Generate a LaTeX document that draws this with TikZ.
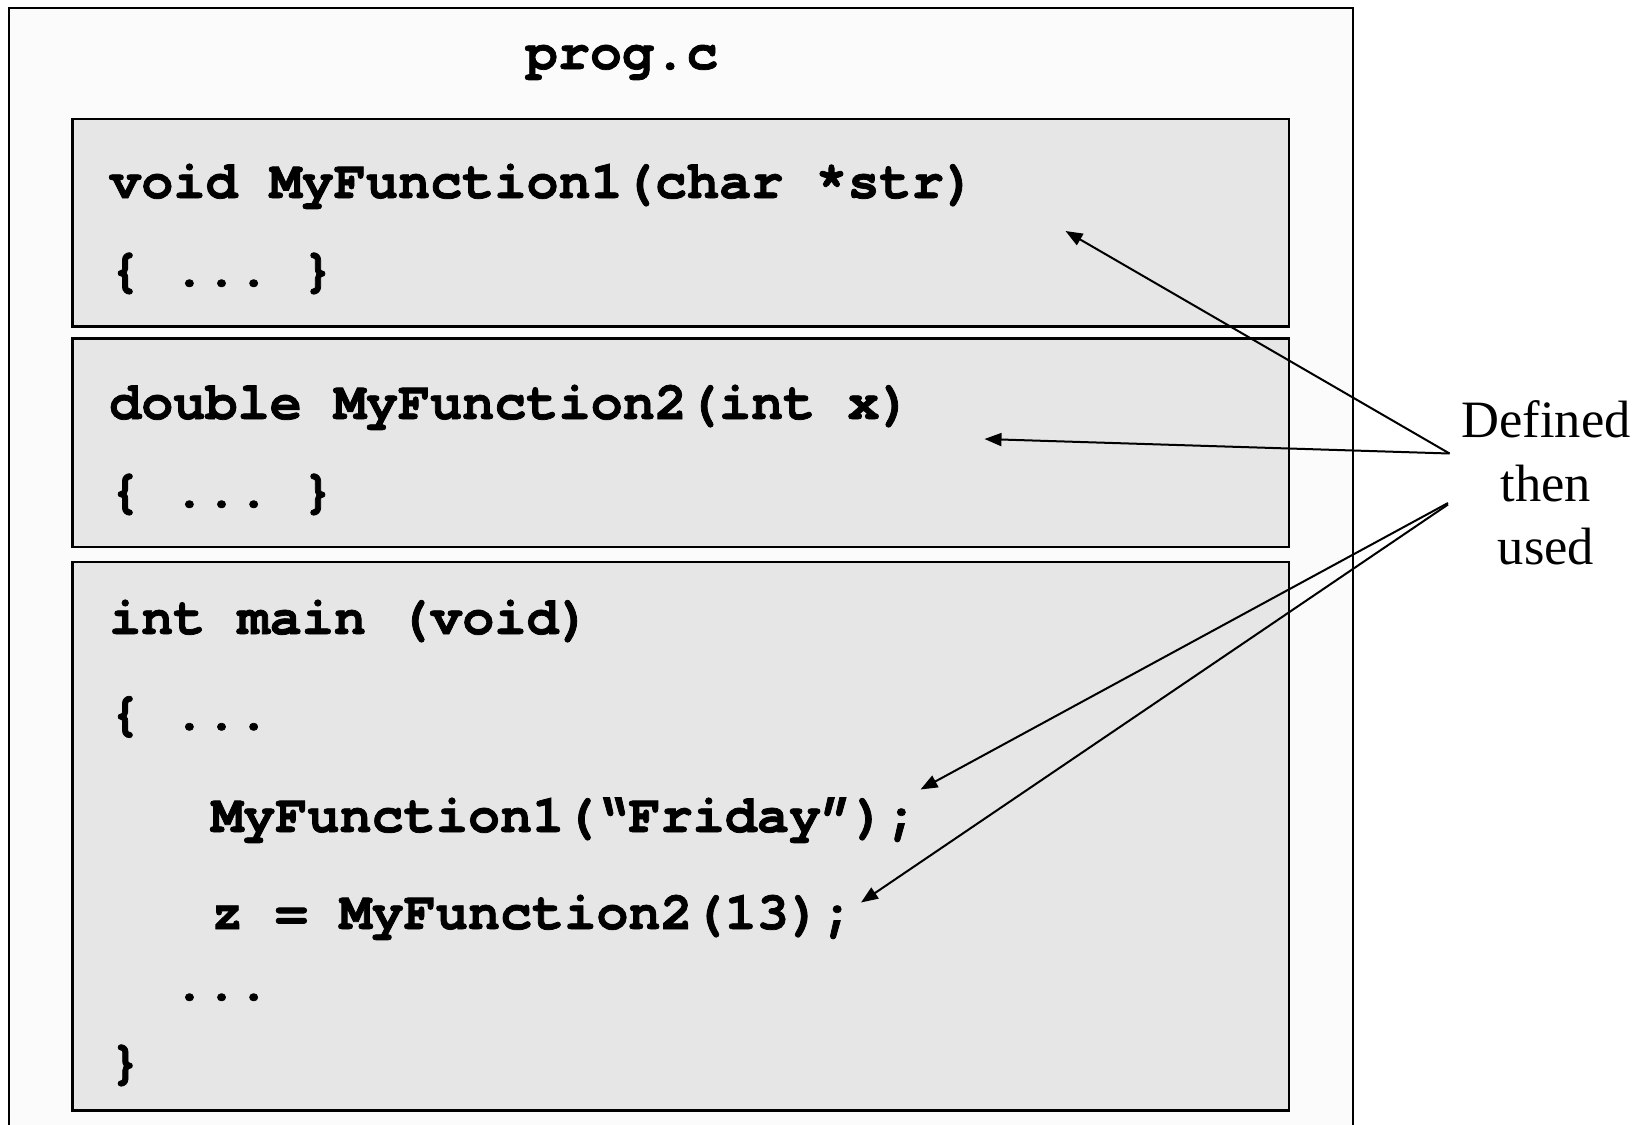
\documentclass[tikz,border=0pt]{standalone}
\usepackage{fontspec}
\setmainfont{Liberation Serif}
\setmonofont{TeX Gyre Cursor}[BoldFeatures={FakeBold=1.4}]
\usetikzlibrary{arrows.meta}
\definecolor{pagebg}{HTML}{FBFBFB}
\definecolor{blockfill}{HTML}{E6E6E6}
\tikzset{
  code/.style={anchor=base west, inner sep=0pt,
    font=\fontsize{53.5bp}{60bp}\selectfont\ttfamily\bfseries},
  block/.style={draw=black, line width=2.5bp, fill=blockfill},
  pointer/.style={draw=black, line width=2bp,
    -{Triangle[length=17bp,width=13bp]}},
}
\begin{document}
\begin{tikzpicture}[x=1bp,y=-1bp]
\useasboundingbox[fill=white] (0,0) rectangle (1646,1124);
\clip (0,0) rectangle (1646,1124);

% source file frame (runs off the bottom edge)
\draw[fill=pagebg, line width=2bp] (8.5,7.5) rectangle (1353,1160);
\node[code, anchor=base] (title) at (622,69) {prog.c};

% function blocks
\draw[block] (72.5,119) rectangle (1289,326.5);
\draw[block] (72.5,338.5) rectangle (1289,547);
\draw[block] (72.5,562) rectangle (1289,1110.5);

% block 1
\node[code] (f1sig)  at (109,198) {void MyFunction1(char *str)};
\node[code] (f1body) at (109,286) {\{ ... \}};
% block 2
\node[code] (f2sig)  at (109,419) {double MyFunction2(int x)};
\node[code] (f2body) at (109,507) {\{ ... \}};
% block 3
\node[code] (msig)   at (109,634) {int main (void)};
\node[code] (mopen)  at (109,729.5) {\{ ...};
\node[code] (call1)  at (211,832) {MyFunction1(“Friday”);};
\node[code] (call2)  at (211,929) {z = MyFunction2(13);};
\node[code] (mdots)  at (109,1000) {\ \ ...};
\node[code] (mclose) at (109,1078) {\}};

% side note (base anchor sits on the last line)
\node[font=\fontsize{52.5bp}{63.5bp}\selectfont, align=center, anchor=base,
      inner sep=0pt] (note) at (1546,564.5) {Defined\\then\\used};

% pointer ends
\coordinate (fromA) at (1449.5,453.5);
\coordinate (fromB) at (1448,503);
\coordinate (toF1)  at (1065.5,231);
\coordinate (toF2)  at (984.5,439);
\coordinate (toC1)  at (920.5,789.5);
\coordinate (toC2)  at (861,902.5);

\draw[pointer] (fromA) -- (toF1);
\draw[pointer] (fromA) -- (toF2);
\draw[pointer] (fromB) -- (toC1);
\draw[pointer] ([yshift=-1.5bp]fromB) -- (toC2);
\end{tikzpicture}
\end{document}
